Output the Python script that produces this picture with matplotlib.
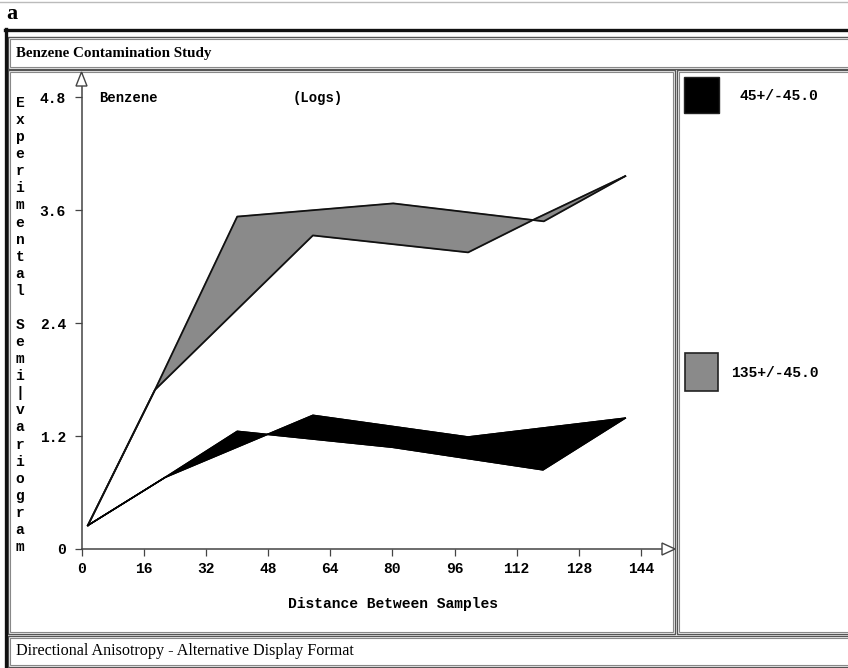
import matplotlib
matplotlib.use("Agg")
import matplotlib.pyplot as plt
from matplotlib.transforms import Affine2D
from matplotlib.patches import Rectangle, Polygon
from matplotlib.lines import Line2D
import numpy as np

# ---------------- data ----------------
x45_a = [1.5, 21.4, 40.0, 80.0, 118.8, 140.0]
y45_a = [0.25, 0.76, 1.25, 1.08, 0.84, 1.39]
x45_b = [1.5, 21.4, 59.5, 99.5, 140.0]
y45_b = [0.25, 0.76, 1.42, 1.19, 1.39]

x135_a = [1.5, 18.8, 40.0, 80.2, 119.0, 140.0]
y135_a = [0.25, 1.69, 3.53, 3.67, 3.48, 3.96]
x135_b = [1.5, 18.8, 59.5, 99.5, 116.5, 140.0]
y135_b = [0.25, 1.69, 3.33, 3.15, 3.50, 3.96]

xticks = [0, 16, 32, 48, 64, 80, 96, 112, 128, 144]
yticks = [0, 1.2, 2.4, 3.6, 4.8]
ytick_labels = ["0", "1.2", "2.4", "3.6", "4.8"]
legend_labels = ["45+/-45.0", "135+/-45.0"]
ylabel_text = "Experimental Semi|variogram"

W, H = 848, 668
fig = plt.figure(figsize=(W / 100, H / 100), dpi=100)
fig.patch.set_facecolor("white")
pix = Affine2D().scale(1.0 / W, -1.0 / H).translate(0, 1) + fig.transFigure

MONO = "Liberation Mono"
SERIF = "Liberation Serif"
EDGE = "#555555"


def hline(x0, x1, y, lw=1.0, color=EDGE):
    fig.add_artist(Line2D([x0, x1], [y, y], transform=pix, lw=lw, color=color))


def vline(x, y0, y1, lw=1.0, color=EDGE):
    fig.add_artist(Line2D([x, x], [y0, y1], transform=pix, lw=lw, color=color))


def dbox(x0, y0, x1, y1):
    fig.add_artist(Rectangle((x0, y0), x1 - x0, y1 - y0, transform=pix,
                             fill=False, ec=EDGE, lw=1.0))
    fig.add_artist(Rectangle((x0 + 2, y0 + 2), x1 - x0 - 4, y1 - y0 - 4, transform=pix,
                             fill=False, ec="#888888", lw=0.8))


# faint top line
hline(0, W, 2, lw=1.0, color="#bbbbbb")
# "a" label
fig.text(6 / W, 1 - 14 / H, "a", family=SERIF, weight="bold", fontsize=16,
         ha="left", va="center")
# outer thick frame
hline(5, W, 29.5, lw=2.4, color="#111111")
vline(5.5, 29, H, lw=2.4, color="#111111")

# title bar
dbox(8, 37, W + 5, 69)
fig.text(16 / W, 1 - 54 / H, "Benzene Contamination Study", family=SERIF,
         weight="bold", fontsize=10.8, ha="left", va="center")
# plot panel
dbox(8, 70, 675, 634)
# legend panel
dbox(677, 70, W + 5, 634)
# bottom bar
dbox(8, 636, W + 5, 667)
fig.text(16 / W, 1 - 651 / H, "Directional Anisotropy - Alternative Display Format",
         family=SERIF, fontsize=11.6, ha="left", va="center")

# ---------------- axes ----------------
L, R, B, T = 82, 673, 549, 73
ax = fig.add_axes([L / W, 1 - B / H, (R - L) / W, (B - T) / H])
ax.set_xlim(0, 152.3)
ax.set_ylim(0, 5.055)
ax.patch.set_alpha(0)
for s in ("top", "right"):
    ax.spines[s].set_visible(False)
for s in ("left", "bottom"):
    ax.spines[s].set_color("#444444")
    ax.spines[s].set_linewidth(1.1)

ax.set_xticks(xticks)
ax.set_xticklabels([str(t) for t in xticks])
ax.set_yticks(yticks)
ax.set_yticklabels(ytick_labels)
ax.tick_params(axis="both", direction="out", length=5, width=0.9, color="#444444",
               labelsize=10.5)
ax.tick_params(axis="y", pad=6.5)
ax.tick_params(axis="x", pad=4.5)
for lab in ax.get_xticklabels() + ax.get_yticklabels():
    lab.set_family(MONO)
    lab.set_weight("bold")

# filled envelopes
ax.fill(np.concatenate([x135_a, x135_b[::-1]]), np.concatenate([y135_a, y135_b[::-1]]),
        color="#8a8a8a", zorder=2)
ax.plot(x135_a, y135_a, color="#111111", lw=1.3, zorder=3)
ax.plot(x135_b, y135_b, color="#111111", lw=1.3, zorder=3)

ax.fill(np.concatenate([x45_a, x45_b[::-1]]), np.concatenate([y45_a, y45_b[::-1]]),
        color="#000000", zorder=2)
ax.plot(x45_a, y45_a, color="#000000", lw=1.1, zorder=3)
ax.plot(x45_b, y45_b, color="#000000", lw=1.1, zorder=3)

# axis arrows (open triangles)
fig.add_artist(Polygon([(76, 86), (87, 86), (81.5, 72)], closed=True, transform=pix,
                       fc="white", ec="#444444", lw=1.0))
fig.add_artist(Polygon([(662, 543), (662, 555), (675, 549)], closed=True, transform=pix,
                       fc="white", ec="#444444", lw=1.0))

# in-plot texts
fig.text(99 / W, 1 - 98 / H, "Benzene", family=MONO, weight="bold", fontsize=10,
         ha="left", va="center")
fig.text(293 / W, 1 - 98 / H, "(Logs)", family=MONO, weight="bold", fontsize=10,
         ha="left", va="center")
fig.text(393 / W, 1 - 604 / H, "Distance Between Samples", family=MONO, weight="bold",
         fontsize=10.5, ha="center", va="center")

# vertical stacked y label
n = len(ylabel_text)
for i, ch in enumerate(ylabel_text):
    y = 103 + i * (547 - 103) / (n - 1)
    fig.text(20 / W, 1 - y / H, ch, family=MONO, weight="bold", fontsize=10.5,
             ha="center", va="center")

# legend
fig.add_artist(Rectangle((684, 77), 35, 36, transform=pix, fc="black", ec="#222222", lw=1))
fig.add_artist(Rectangle((685, 353), 33, 38, transform=pix, fc="#8a8a8a", ec="#222222", lw=1.2))
fig.text(740 / W, 1 - 96 / H, legend_labels[0], family=MONO, weight="bold", fontsize=10.5,
         ha="left", va="center")
fig.text(731 / W, 1 - 373 / H, legend_labels[1], family=MONO, weight="bold", fontsize=10.5,
         ha="left", va="center")

fig.savefig("out.png", dpi=100)
